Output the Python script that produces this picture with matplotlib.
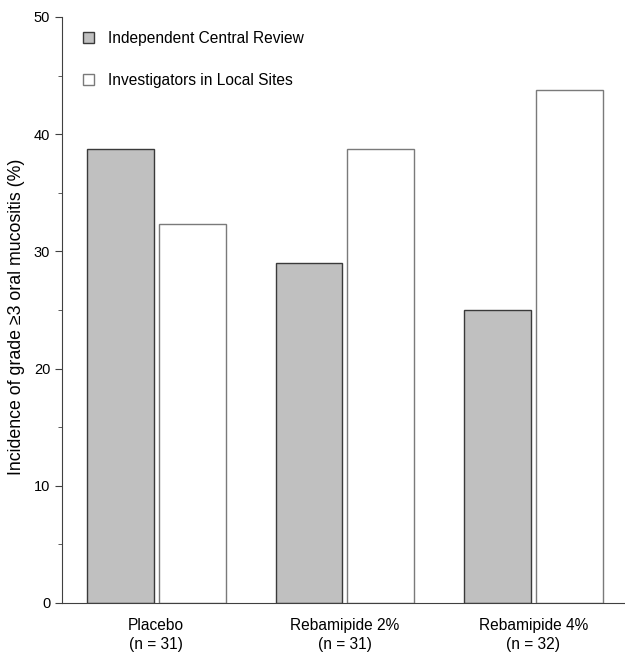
import matplotlib.pyplot as plt
import numpy as np

plt.rcParams['font.family'] = ['Liberation Sans', 'DejaVu Sans']

groups = ['Placebo\n(n = 31)', 'Rebamipide 2%\n(n = 31)', 'Rebamipide 4%\n(n = 32)']
central = [38.7, 29.0, 25.0]
local = [32.3, 38.7, 43.75]

fig = plt.figure(figsize=(6.25, 6.53), dpi=100)
ax = fig.add_axes([0.0992, 0.0766, 0.905, 0.8974])

x = np.arange(len(groups))
w = 0.355
off = 0.19
ax.bar(x - off, central, w, color='#c0c0c0', edgecolor='#3a3a3a', linewidth=1.0,
       label='Independent Central Review')
ax.bar(x + off, local, w, color='white', edgecolor='#7a7a7a', linewidth=1.0,
       label='Investigators in Local Sites')

ax.set_xlim(-0.5, 2.5)
ax.set_ylim(0, 50)
ax.set_yticks(range(0, 51, 10))
ax.set_yticks(range(5, 50, 10), minor=True)
ax.set_xticks(x)
ax.set_xticklabels(groups, fontsize=11.2, linespacing=1.3)
ax.tick_params(axis='x', length=0, pad=11)
ax.tick_params(axis='y', which='major', length=5, direction='out', labelsize=10.5, color='#404040')
ax.tick_params(axis='y', which='minor', length=3, direction='out', color='#404040')
ax.set_ylabel('Incidence of grade \u22653 oral mucositis (%)', fontsize=12.8)
ax.yaxis.set_label_coords(-0.065, 0.488)

for s in ['top', 'right']:
    ax.spines[s].set_visible(False)
for s in ['left', 'bottom']:
    ax.spines[s].set_color('#404040')

ax.legend(loc='upper left', bbox_to_anchor=(0.013, 1.0), frameon=False, fontsize=11.2,
          handlelength=0.7, handleheight=0.7, labelspacing=1.75, handletextpad=0.9)

fig.savefig('out.png', dpi=100)
